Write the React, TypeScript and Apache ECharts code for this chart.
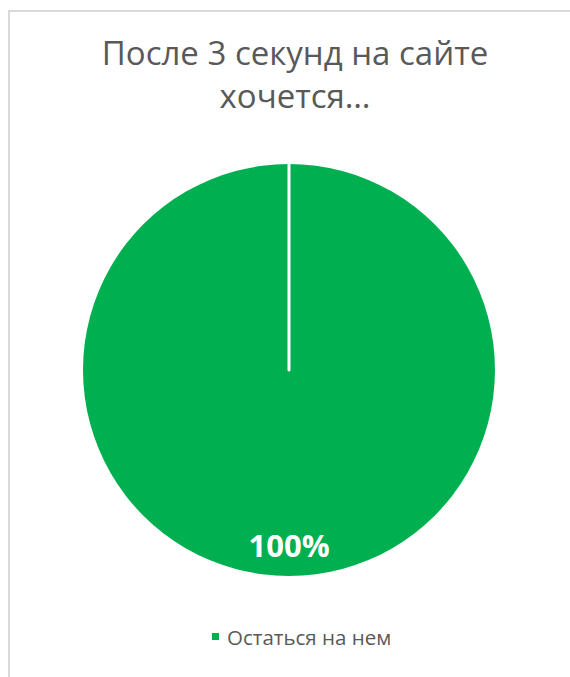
import React, { useEffect, useRef } from "react";
import * as echarts from "echarts";

const titleText = "После 3 секунд на сайте\nхочется…";
const categories = ["Остаться на нем"];
const values = [100];
const colors = ["#00B050"];

export default function App() {
  const ref = useRef<HTMLDivElement>(null);
  useEffect(() => {
    if (!ref.current) return;
    const chart = echarts.init(ref.current, undefined, { renderer: "svg" });
    const data: any[] = categories.map((c, i) => ({
      name: c,
      value: values[i],
      itemStyle: { color: colors[i], borderWidth: 0 },
    }));
    // seam: zero-size slice drawn as a white radial edge (Excel style)
    data.push({
      name: "",
      value: 0,
      itemStyle: { color: "#ffffff", borderColor: "#ffffff", borderWidth: 3 },
      label: { show: false },
      labelLine: { show: false },
    });
    chart.setOption({
      animation: false,
      title: {
        text: titleText,
        left: 290,
        top: 26,
        textAlign: "center",
        textStyle: {
          fontFamily: "Open Sans",
          fontSize: 33,
          fontWeight: "normal",
          color: "#595959",
          lineHeight: 43,
        },
      },
      legend: {
        data: categories,
        left: 207,
        top: 621,
        icon: "rect",
        itemWidth: 7,
        itemHeight: 7,
        itemGap: 10,
        textStyle: {
          fontFamily: "Open Sans",
          fontSize: 20.5,
          color: "#595959",
          padding: [0, 0, 0, 3],
        },
      },
      series: [
        {
          type: "pie",
          center: [289, 370],
          radius: [0, 206],
          startAngle: 90,
          clockwise: true,
          silent: true,
          label: {
            show: true,
            position: "inside",
            formatter: "{d}%",
            color: "#ffffff",
            fontFamily: "Open Sans",
            fontWeight: "bold",
            fontSize: 31,
            offset: [0, 69],
          },
          labelLine: { show: false },
          data,
        },
      ],
    });
    return () => chart.dispose();
  }, []);
  return (
    <div style={{ position: "fixed", left: 0, top: 0, width: 570, height: 677, background: "#fff" }}>
      <div
        style={{
          position: "absolute",
          left: 8,
          top: 10,
          width: 562,
          height: 667,
          boxSizing: "border-box",
          borderTop: "2px solid #d9d9d9",
          borderLeft: "2px solid #d9d9d9",
        }}
      />
      <div ref={ref} style={{ position: "absolute", left: 0, top: 0, width: 570, height: 677 }} />
    </div>
  );
}
